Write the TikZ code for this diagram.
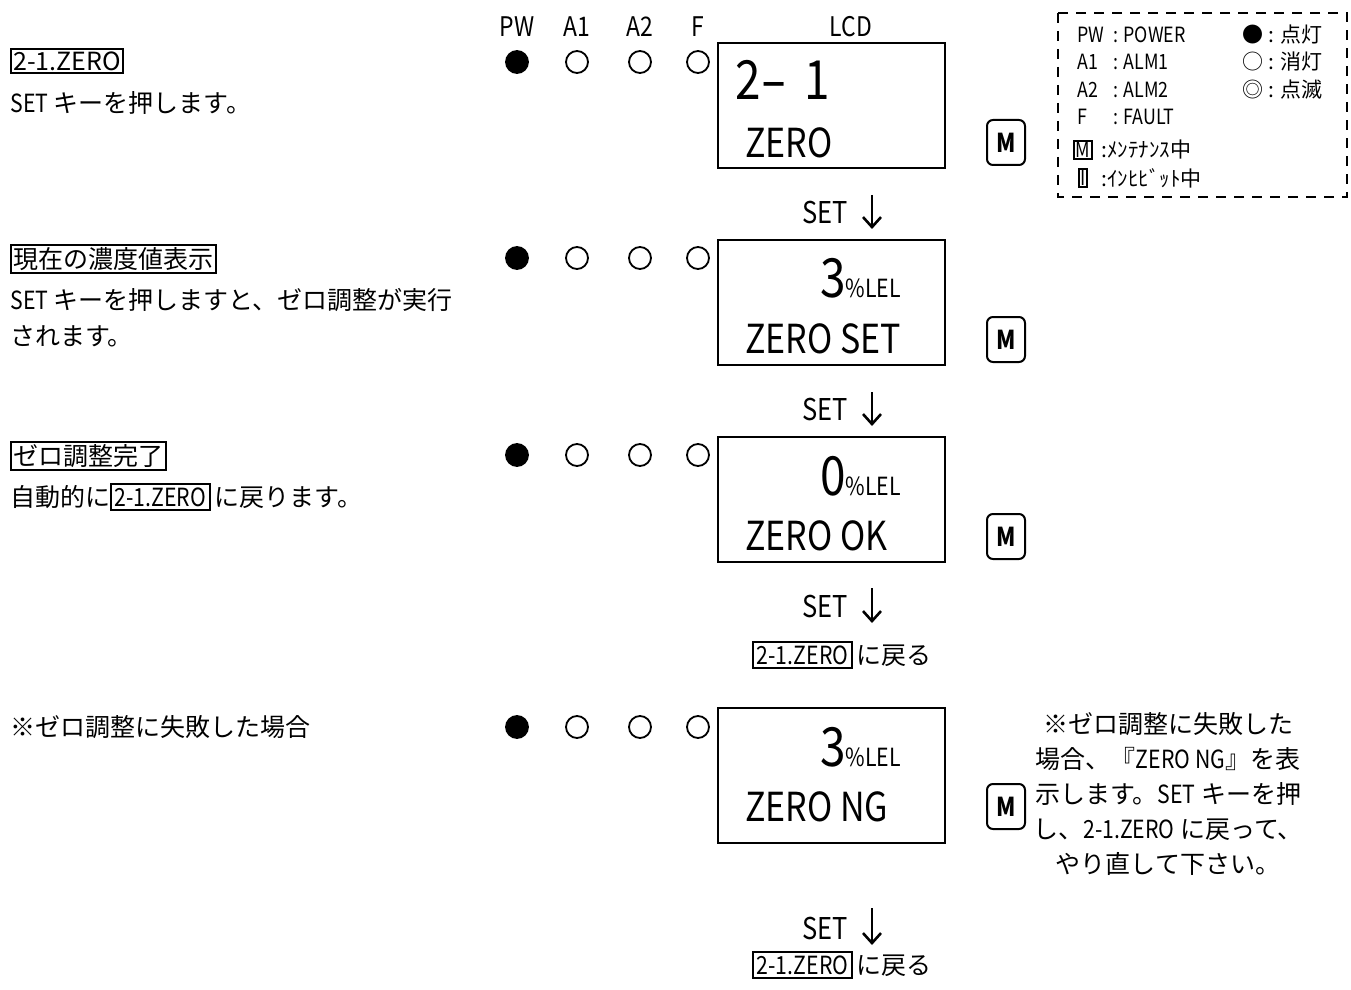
\documentclass[tikz,border=0pt]{standalone}
\usepackage{fontspec}
\setmainfont{Noto Sans CJK JP}
\usetikzlibrary{arrows.meta}

% narrow latin, like the half-width glyphs of the panel
\newcommand{\nar}[1]{\scalebox{0.85}[1]{#1}}
\newcommand{\keybox}[1]{{\setlength\fboxsep{1.2pt}\setlength\fboxrule{1pt}\fbox{#1}}}

\tikzset{
  hdr/.style={font=\fontsize{13.5}{14}\selectfont},
  ledon/.style={circle, fill=black, draw, line width=0.9pt, minimum size=11pt, inner sep=0pt},
  ledoff/.style={circle, draw, line width=0.9pt, minimum size=11pt, inner sep=0pt},
  lcdbox/.style={draw, line width=1pt, minimum width=113.5pt, inner sep=0pt},
  bigtxt/.style={anchor=base west, inner sep=0pt, font=\fontsize{27}{27}\selectfont},
  midtxt/.style={anchor=base west, inner sep=0pt, font=\fontsize{20}{20}\selectfont},
  mkey/.style={draw, line width=1pt, rounded corners=3pt, minimum width=19pt, minimum height=22.5pt,
    inner sep=0pt, font=\fontsize{13}{13}\selectfont\bfseries},
  setlbl/.style={font=\fontsize{15}{15}\selectfont},
  setarrow/.style={line width=1.3pt, -{Straight Barb[length=5pt, width=9pt, line width=1.3pt]}},
  lefttxt/.style={anchor=west, inner sep=0pt, align=left, font=\fontsize{12.5}{18}\selectfont},
  titlebox/.style={anchor=west, draw, line width=1pt, inner sep=1.2pt, font=\fontsize{12.5}{14}\selectfont},
  legtxt/.style={anchor=west, inner sep=0pt, font=\fontsize{10.5}{11}\selectfont},
}

\begin{document}
\begin{tikzpicture}[x=0.5pt, y=-0.5pt]
  \useasboundingbox (0,0) rectangle (1351,990);

  % Column heads
  \node[hdr] (hPW) at (517,27) {\nar{PW}};
  \node[hdr] (hAa) at (577,27) {\nar{A1}};
  \node[hdr] (hAb) at (640,27) {\nar{A2}};
  \node[hdr] (hF) at (698,27) {\nar{F}};
  \node[hdr] (hLCD) at (851,27) {\nar{LCD}};

  % Lamps of every step
  \foreach \r/\y in {A/62, B/258, C/455, D/727} {
    \node[ledon] (pw\r) at (517,\y) {};
    \node[ledoff] (aa\r) at (577,\y) {};
    \node[ledoff] (ab\r) at (640,\y) {};
    \node[ledoff] (ff\r) at (698,\y) {};
  }

  % LCD frames
  \node[lcdbox, minimum height=62.5pt] (lcdA) at (831.5,105.5) {};
  \node[lcdbox, minimum height=62.5pt] (lcdB) at (831.5,302.5) {};
  \node[lcdbox, minimum height=62.5pt] (lcdC) at (831.5,499.5) {};
  \node[lcdbox, minimum height=67.5pt] (lcdD) at (831.5,775.5) {};

  % LCD contents
  \node[bigtxt] (tA1) at (735,100) {\nar{2\scalebox{1.7}[1]{-}\hspace{0.35em}1}};
  \node[midtxt] (tA2) at (745,158) {\nar{ZERO}};
  \node[bigtxt] (tB1) at (820,298) {\nar{3{\fontsize{12.5}{12.5}\selectfont\%LEL}}};
  \node[midtxt] (tB2) at (745,353) {\nar{ZERO SET}};
  \node[bigtxt] (tC1) at (820,495) {\nar{0{\fontsize{12.5}{12.5}\selectfont\%LEL}}};
  \node[midtxt] (tC2) at (745,550) {\nar{ZERO OK}};
  \node[bigtxt] (tD1) at (820,766) {\nar{3{\fontsize{12.5}{12.5}\selectfont\%LEL}}};
  \node[midtxt] (tD2) at (745,821) {\nar{ZERO NG}};

  % M keys
  \node[mkey] (mA) at (1006,142.5) {\nar{M}};
  \node[mkey] (mB) at (1006,339.5) {\nar{M}};
  \node[mkey] (mC) at (1006,536.5) {\nar{M}};
  \node[mkey] (mD) at (1006,806.5) {\nar{M}};

  % SET steps
  \coordinate (sA) at (872,195);  \coordinate (eA) at (872,229);
  \coordinate (sB) at (872,392);  \coordinate (eB) at (872,426);
  \coordinate (sC) at (872,588);  \coordinate (eC) at (872,623);
  \coordinate (sD) at (872,908);  \coordinate (eD) at (872,945);
  \draw[setarrow] (sA) -- (eA);
  \draw[setarrow] (sB) -- (eB);
  \draw[setarrow] (sC) -- (eC);
  \draw[setarrow] (sD) -- (eD);
  \node[setlbl] (kA) at (825,213) {\nar{SET}};
  \node[setlbl] (kB) at (825,410) {\nar{SET}};
  \node[setlbl] (kC) at (825,607) {\nar{SET}};
  \node[setlbl] (kD) at (825,928) {\nar{SET}};

  % back to 2-1
  \node[lefttxt] (backC) at (752,655) {\keybox{\nar{2-1.ZERO}}\,に戻る};
  \node[lefttxt] (backD) at (752,965) {\keybox{\nar{2-1.ZERO}}\,に戻る};

  % Explanations on the left
  \node[titlebox] (ttA) at (10,61) {2-1.ZERO};
  \node[lefttxt] (exA) at (10,103) {\nar{SET} キーを押します。};
  \node[titlebox] (ttB) at (10,259) {現在の濃度値表示};
  \node[lefttxt] (exB) at (10,318) {\nar{SET} キーを押しますと、ゼロ調整が実行\\されます。};
  \node[titlebox] (ttC) at (10,456) {ゼロ調整完了};
  \node[lefttxt] (exC) at (10,497) {自動的に\keybox{\nar{2-1.ZERO}}\,に戻ります。};
  \node[lefttxt] (exD) at (10,727) {※ゼロ調整に失敗した場合};

  % Note for ZERO NG
  \node[align=center, inner sep=0pt, font=\fontsize{12.5}{17.5}\selectfont] (note) at (1168,794)
    {※ゼロ調整に失敗した\\場合、『\nar{ZERO NG}』を表\\示します。\nar{SET} キーを押\\し、\nar{2-1.ZERO} に戻って、\\やり直して下さい。};

  % Legend
  \draw[line width=1pt, dash pattern=on 5pt off 4pt] (1058,13) rectangle (1347,197);
  \node[legtxt] (lgPW) at (1077,35) {\nar{PW}};
  \node[legtxt] (lgA1) at (1077,62) {\nar{A1}};
  \node[legtxt] (lgA2) at (1077,90) {\nar{A2}};
  \node[legtxt] (lgF) at (1077,117) {\nar{F}};
  \node[legtxt] (dPW) at (1113,35) {\nar{: POWER}};
  \node[legtxt] (dA1) at (1113,62) {\nar{: ALM1}};
  \node[legtxt] (dA2) at (1113,90) {\nar{: ALM2}};
  \node[legtxt] (dF) at (1113,117) {\nar{: FAULT}};
  \node[draw, line width=1pt, inner sep=0.8pt, font=\fontsize{10.5}{11}\selectfont] (lgM) at (1083,150) {\nar{M}};
  \node[draw, line width=1pt, inner sep=0.8pt, font=\fontsize{10.5}{11}\selectfont] (lgI) at (1083,178) {\nar{I}};
  \node[legtxt] (dM) at (1101,150) {:ﾒﾝﾃﾅﾝｽ中};
  \node[legtxt] (dI) at (1101,178) {:ｲﾝﾋﾋﾞｯﾄ中};
  \node[legtxt] (sOn) at (1242,35) {● : 点灯};
  \node[legtxt] (sOff) at (1242,62) {○ : 消灯};
  \node[legtxt] (sBl) at (1242,90) {◎ : 点滅};
\end{tikzpicture}
\end{document}
